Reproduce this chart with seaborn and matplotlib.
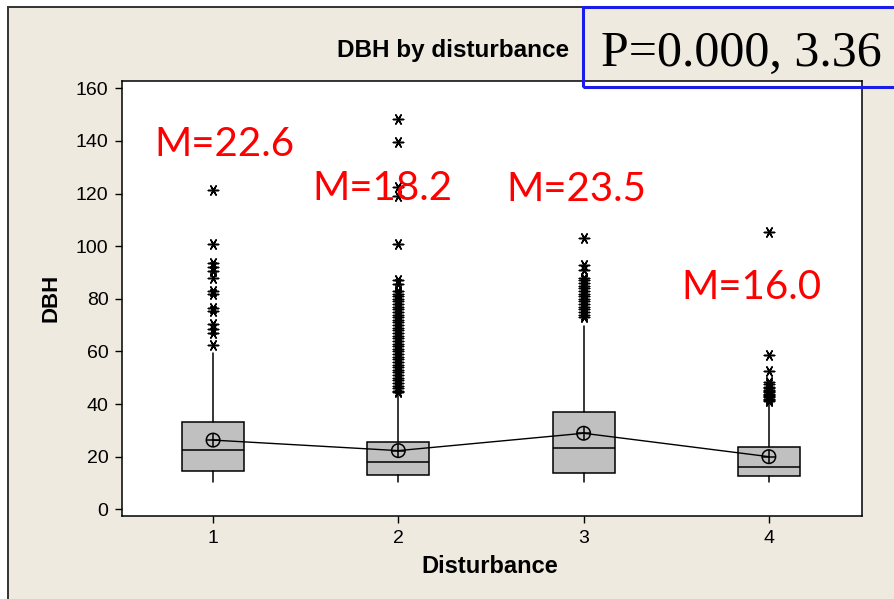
import numpy as np
import pandas as pd
import matplotlib
matplotlib.use("Agg")
import matplotlib.pyplot as plt
import matplotlib.patches as mpatches
import seaborn as sns

# ---------------- data ----------------
categories = ["1", "2", "3", "4"]
q1 = [14.4, 13.2, 13.8, 12.7]
medians = [22.65, 18.0, 23.2, 16.1]
q3 = [33.3, 25.6, 36.9, 23.8]
whisker_lo = [10.5, 10.5, 10.5, 10.5]
whisker_hi = [59.5, 43.5, 69.8, 40.5]
means = [26.3, 22.3, 28.9, 20.0]

outliers_1 = [121.5, 101, 93.5, 92, 90.5, 88, 83, 82, 76.5, 75.5, 70.5, 68.5, 67, 62.5]
outliers_2 = [148.5, 139.5, 122.5, 119, 101, 87, 85.5, 83, 82, 81, 80, 79, 78, 77,
              76, 75, 74, 73, 72, 71, 70, 69, 68, 67, 66, 65, 64, 63, 62, 61, 60,
              59, 58, 57, 56, 55, 54, 53, 52, 51, 50, 49, 48, 47, 46, 45, 44.5]
outliers_3 = [103, 93, 91, 88, 87, 86, 85, 84, 83, 82, 81, 80, 79, 78, 77, 76, 75, 74, 73]
outliers_4 = [105.5, 58.5, 52.5, 48.5, 47.5, 46.5, 46, 45.5, 45, 44.5, 44, 43.5,
              43, 42.5, 42, 41.5, 41]

median_labels = ["M=22.6", "M=18.2", "M=23.5", "M=16.0"]
label_x = [0.06, 0.914, 1.962, 2.908]
label_y = [134.3, 117.6, 117.2, 80.0]

title_text = "DBH by disturbance"
p_text = "P=0.000, 3.36"
xlabel = "Disturbance"
ylabel = "DBH"
yticks = [0, 20, 40, 60, 80, 100, 120, 140, 160]

# ---------------- style ----------------
sns.set_theme(style="white")
plt.rcParams["font.family"] = ["Liberation Sans", "DejaVu Sans"]

BEIGE = "#EEEAE0"
W, H = 895, 599
fig = plt.figure(figsize=(W / 100, H / 100), dpi=100, facecolor="white")

# outer beige frame
frame = mpatches.Rectangle((8 / W, -0.1), 2.0, (1 - 7.5 / H) + 0.1,
                           transform=fig.transFigure, facecolor=BEIGE,
                           edgecolor="#333333", linewidth=1.4, zorder=-10)
fig.patches.append(frame)

ax_l, ax_r, ax_t, ax_b = 122.3, 861.5, 80.7, 516.0
ax = fig.add_axes([ax_l / W, 1 - ax_b / H, (ax_r - ax_l) / W, (ax_b - ax_t) / H])
ax.set_zorder(1)
ax.set_facecolor("white")

pos = np.arange(len(categories))

stats = []
for i in range(len(categories)):
    stats.append(dict(med=medians[i], q1=q1[i], q3=q3[i],
                      whislo=whisker_lo[i], whishi=whisker_hi[i], fliers=[]))
ax.bxp(stats, positions=pos, widths=0.335, showcaps=False, showfliers=False,
       patch_artist=True,
       boxprops=dict(facecolor="#C0C0C0", edgecolor="black", linewidth=1.1),
       medianprops=dict(color="black", linewidth=1.1),
       whiskerprops=dict(color="black", linewidth=1.1))

# outliers
out_df = pd.DataFrame({
    "x": np.concatenate([np.full(len(o), p) for o, p in
                         zip([outliers_1, outliers_2, outliers_3, outliers_4], pos)]),
    "y": np.concatenate([outliers_1, outliers_2, outliers_3, outliers_4]),
})
sns.scatterplot(data=out_df, x="x", y="y", marker=(6, 2, 90), s=55,
                color="black", linewidth=1.1, ax=ax, zorder=4, legend=False)

# mean connect line and symbols
mean_df = pd.DataFrame({"x": pos, "y": means})
sns.lineplot(data=mean_df, x="x", y="y", color="black", linewidth=1.0, ax=ax,
             zorder=5, legend=False)
sns.scatterplot(data=mean_df, x="x", y="y", marker="o", s=95, facecolor="none",
                edgecolor="black", linewidth=1.1, ax=ax, zorder=6, legend=False)
sns.scatterplot(data=mean_df, x="x", y="y", marker="+", s=95, color="black",
                linewidth=1.1, ax=ax, zorder=6, legend=False)

# median annotations
for x, y, t in zip(label_x, label_y, median_labels):
    ax.text(x, y, t, color="#FF0000", fontsize=29, family=["Lato", "DejaVu Sans"],
            ha="center", va="baseline", zorder=7)

ax.set_xlim(-0.49, 3.5)
ax.set_ylim(-2.55, 162.9)
ax.set_xticks(pos)
ax.set_xticklabels(categories)
ax.set_yticks(yticks)
ax.set_yticklabels([str(v) for v in yticks])
ax.tick_params(axis="both", which="major", direction="out", length=5, width=1.0,
               color="black", labelsize=14, labelcolor="black", pad=5,
               left=True, bottom=True)
for sp in ax.spines.values():
    sp.set_color("black")
    sp.set_linewidth(1.1)

ax.set_xlabel(xlabel, fontsize=17, fontweight="bold", color="black")
ax.set_ylabel(ylabel, fontsize=16, fontweight="bold", color="black")
ax.xaxis.set_label_coords((490 - ax_l) / (ax_r - ax_l), -(555 - ax_b) / (ax_b - ax_t))
ax.yaxis.set_label_coords(-(122.3 - 62) / (ax_r - ax_l), 1 - (298 - ax_t) / (ax_b - ax_t))

# title
fig.text(453 / W, 1 - 57.5 / H, title_text, fontsize=17.5, fontweight="bold",
         ha="center", va="baseline", color="black", zorder=5)

# blue box with P text
blue = mpatches.Rectangle((582.7 / W, 1 - 87.3 / H), 0.6, (87.3 - 7.3) / H,
                          transform=fig.transFigure, facecolor="none",
                          edgecolor="#1C1CE8", linewidth=2.2, zorder=10)
fig.patches.append(blue)
fig.text(741 / W, 1 - 65.5 / H, p_text, fontsize=36,
         family=["Liberation Serif", "DejaVu Serif"], ha="center", va="baseline",
         color="black", zorder=11)

fig.savefig("out.png", dpi=100, facecolor=fig.get_facecolor())
